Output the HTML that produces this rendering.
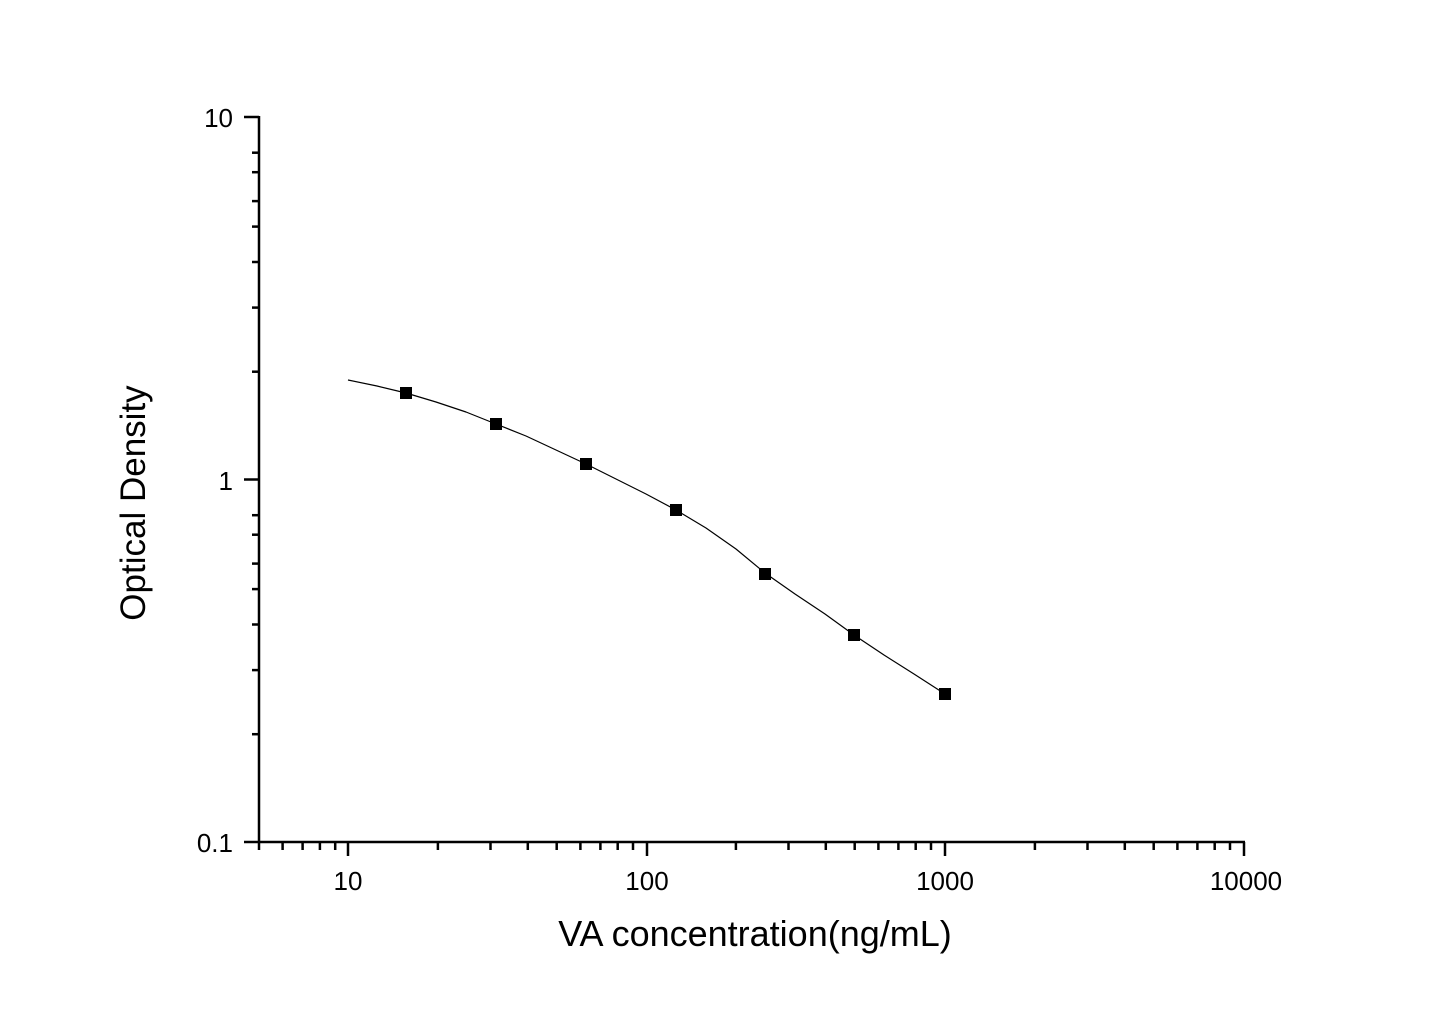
<!DOCTYPE html>
<html><head><style>body{margin:0;background:#fff}</style></head><body>
<svg width="1445" height="1009" xmlns="http://www.w3.org/2000/svg" font-family="Liberation Sans, Arial, sans-serif">
<rect width="1445" height="1009" fill="#fff"/>
<g stroke="#000" stroke-width="2.5" fill="none">
<line x1="259" y1="116" x2="259" y2="843"/>
<line x1="258" y1="842" x2="1245" y2="842"/>
<line x1="244" y1="117" x2="259" y2="117"/>
<line x1="244" y1="479.5" x2="259" y2="479.5"/>
<line x1="244" y1="842" x2="259" y2="842"/>
<line x1="252" y1="152.7" x2="259" y2="152.7"/><line x1="252" y1="172.2" x2="259" y2="172.2"/><line x1="252" y1="201.1" x2="259" y2="201.1"/><line x1="252" y1="226.6" x2="259" y2="226.6"/><line x1="252" y1="262" x2="259" y2="262"/><line x1="252" y1="307.6" x2="259" y2="307.6"/><line x1="252" y1="371.7" x2="259" y2="371.7"/>
<line x1="252" y1="515.2" x2="259" y2="515.2"/><line x1="252" y1="534.7" x2="259" y2="534.7"/><line x1="252" y1="563.6" x2="259" y2="563.6"/><line x1="252" y1="589.1" x2="259" y2="589.1"/><line x1="252" y1="624.5" x2="259" y2="624.5"/><line x1="252" y1="670.1" x2="259" y2="670.1"/><line x1="252" y1="734.2" x2="259" y2="734.2"/>
<line x1="348" y1="842" x2="348" y2="856"/><line x1="647" y1="842" x2="647" y2="856"/><line x1="945" y1="842" x2="945" y2="856"/><line x1="1244" y1="842" x2="1244" y2="856"/>
<line x1="259" y1="842" x2="259" y2="850"/><line x1="282.6" y1="842" x2="282.6" y2="850"/><line x1="302.6" y1="842" x2="302.6" y2="850"/><line x1="319.9" y1="842" x2="319.9" y2="850"/><line x1="335.2" y1="842" x2="335.2" y2="850"/>
<line x1="437.9" y1="842" x2="437.9" y2="850"/><line x1="490.5" y1="842" x2="490.5" y2="850"/><line x1="527.8" y1="842" x2="527.8" y2="850"/><line x1="556.7" y1="842" x2="556.7" y2="850"/><line x1="580.4" y1="842" x2="580.4" y2="850"/><line x1="600.4" y1="842" x2="600.4" y2="850"/><line x1="617.7" y1="842" x2="617.7" y2="850"/><line x1="633" y1="842" x2="633" y2="850"/>
<line x1="735.9" y1="842" x2="735.9" y2="850"/><line x1="788.5" y1="842" x2="788.5" y2="850"/><line x1="825.8" y1="842" x2="825.8" y2="850"/><line x1="854.7" y1="842" x2="854.7" y2="850"/><line x1="878.4" y1="842" x2="878.4" y2="850"/><line x1="898.4" y1="842" x2="898.4" y2="850"/><line x1="915.7" y1="842" x2="915.7" y2="850"/><line x1="931" y1="842" x2="931" y2="850"/>
<line x1="1034.9" y1="842" x2="1034.9" y2="850"/><line x1="1087.5" y1="842" x2="1087.5" y2="850"/><line x1="1124.8" y1="842" x2="1124.8" y2="850"/><line x1="1153.7" y1="842" x2="1153.7" y2="850"/><line x1="1177.4" y1="842" x2="1177.4" y2="850"/><line x1="1197.4" y1="842" x2="1197.4" y2="850"/><line x1="1214.7" y1="842" x2="1214.7" y2="850"/><line x1="1230" y1="842" x2="1230" y2="850"/>
</g>
<polyline points="348,380 377,386 406,393 436,402 466,412 496,424 526,436 556,450 586,464 616,479 646,494 676,510 706,528 736,549 765,573 795,594 825,614 854,635 884,655 914,674 945,694" stroke="#000" stroke-width="1.2" fill="none" stroke-linejoin="round"/>
<g fill="#000">
<rect x="400" y="387" width="12" height="12"/><rect x="490" y="418" width="12" height="12"/><rect x="580" y="458" width="12" height="12"/><rect x="670" y="504" width="12" height="12"/><rect x="759" y="568" width="12" height="12"/><rect x="848" y="629" width="12" height="12"/><rect x="939" y="688" width="12" height="12"/>
</g>
<g font-size="26" fill="#000">
<text x="233" y="127" text-anchor="end">10</text>
<text x="233" y="490" text-anchor="end">1</text>
<text x="233" y="852" text-anchor="end">0.1</text>
<text x="348" y="890" text-anchor="middle">10</text>
<text x="647" y="890" text-anchor="middle">100</text>
<text x="945" y="890" text-anchor="middle">1000</text>
<text x="1246" y="890" text-anchor="middle">10000</text>
</g>
<text x="755" y="946" font-size="36" text-anchor="middle">VA concentration(ng/mL)</text>
<text transform="translate(145,503) rotate(-90)" font-size="35" text-anchor="middle">Optical Density</text>
</svg>
</body></html>
